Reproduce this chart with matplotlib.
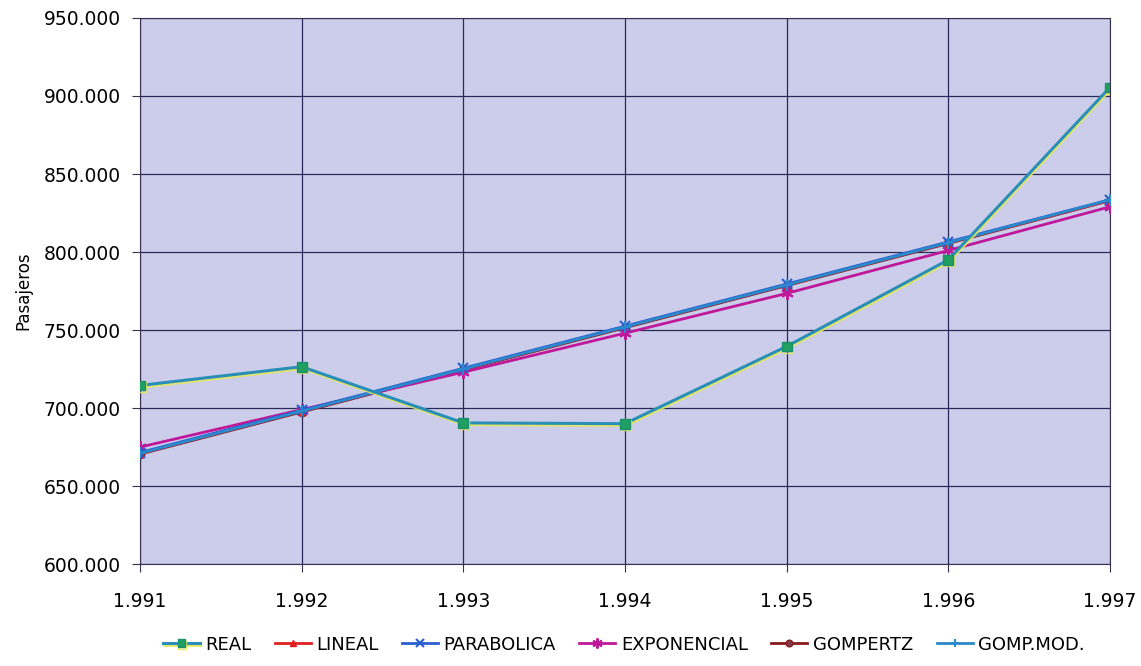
import numpy as np
import matplotlib
matplotlib.use("Agg")
import matplotlib.pyplot as plt
import matplotlib.patheffects as pe
from matplotlib.ticker import FuncFormatter

years = [1991, 1992, 1993, 1994, 1995, 1996, 1997]
real = [714500, 726500, 690500, 690000, 739500, 795000, 905500]
lineal = [671000, 698000, 725000, 752000, 779000, 806000, 833000]
parabolica = [671500, 698500, 725500, 752500, 779500, 806500, 833500]
exponencial = [675000, 699000, 723000, 748000, 773500, 801000, 829000]
gompertz = [670500, 697500, 724500, 751500, 778500, 805500, 833000]
gomp_mod = [671000, 698000, 725000, 752000, 779000, 806000, 833500]

fig = plt.figure(figsize=(11.41, 6.66), dpi=100)
ax = fig.add_axes([0.1227, 0.153, 0.8501, 0.82])
ax.set_facecolor("#cbcdea")

shadow = [pe.SimpleLineShadow(offset=(0.6, -1.2), shadow_color="#e6e85a", alpha=0.9), pe.Normal()]

ax.plot(years, gompertz, color="#8b1a1a", lw=2, marker="o", ms=6, mfc="#7a3a50", mec="#8b1a1a", label="GOMPERTZ", zorder=3)
ax.plot(years, lineal, color="#e02020", lw=2, marker="^", ms=6, label="LINEAL", zorder=3)
ax.plot(years, exponencial, color="#c0189a", lw=2, marker=(6, 2, 0), ms=9, mew=1.5, label="EXPONENCIAL", zorder=4)
ax.plot(years, parabolica, color="#2a5fd0", lw=2, marker="x", ms=7, mew=1.5, label="PARABOLICA", zorder=5)
ax.plot(years, gomp_mod, color="#2a88cc", lw=2, marker="+", ms=8, mew=1.5, label="GOMP.MOD.", zorder=6)
ax.plot(years, real, color="#2a8fb8", lw=2.2, marker="s", ms=7, mfc="#1fa060", mec="#1a9070",
        label="REAL", zorder=7, path_effects=shadow)

ax.set_xlim(1991, 1997)
ax.set_ylim(600000, 950000)
ax.set_xticks(years)
ax.set_yticks(np.arange(600000, 950001, 50000))
fmt = FuncFormatter(lambda v, p: "%d.%03d" % (int(v) // 1000, int(v) % 1000))
ax.xaxis.set_major_formatter(fmt)
ax.yaxis.set_major_formatter(fmt)
ax.grid(True, color="#2a2a5a", lw=0.9)
ax.set_axisbelow(True)
for s in ax.spines.values():
    s.set_color("#3a3050")
ax.tick_params(direction="out", length=6, color="#3a3050", labelsize=13.5, pad=8)
ax.tick_params(axis="x", pad=14)
ax.set_ylabel("Pasajeros", fontsize=12, labelpad=8)

h, l = ax.get_legend_handles_labels()
order = ["REAL", "LINEAL", "PARABOLICA", "EXPONENCIAL", "GOMPERTZ", "GOMP.MOD."]
hd = dict(zip(l, h))
fig.legend([hd[k] for k in order], order, loc="center", bbox_to_anchor=(0.547, 0.032), ncol=6,
           frameon=False, fontsize=13, handlelength=2.0, handletextpad=0.3, columnspacing=1.3,
           markerscale=0.8)

fig.savefig("out.png", dpi=100)
